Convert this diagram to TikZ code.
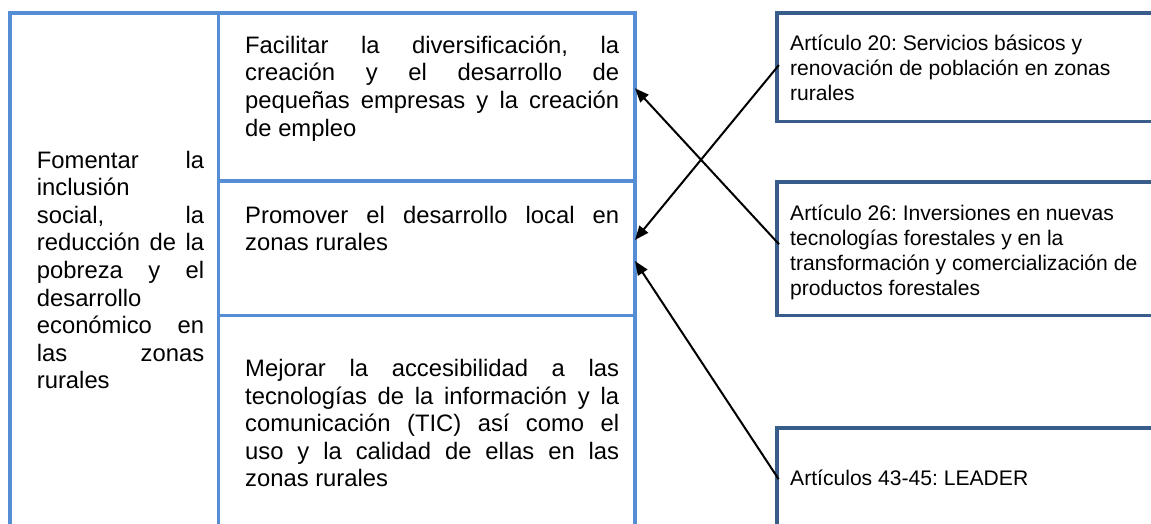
\documentclass[tikz,border=0pt]{standalone}
\usepackage{fontspec}
\setmainfont{Liberation Sans}
\usetikzlibrary{arrows.meta}
\definecolor{tbl}{HTML}{558ED5}
\definecolor{boxc}{HTML}{385D8A}
\frenchspacing
\newcommand{\jline}[1]{\makebox[\linewidth][s]{#1}\\}
\tikzset{
  cell/.style={draw=tbl, line width=3.5pt, inner sep=0pt, outer sep=0pt, anchor=north west},
  rbox/.style={draw=boxc, line width=3.5pt, inner sep=0pt, outer sep=0pt, anchor=north west, minimum width=450pt},
  txtL/.style={inner sep=0pt, anchor=base west, font=\fontsize{23.8}{27.6}\selectfont\frenchspacing},
  txtR/.style={inner sep=0pt, anchor=base west, font=\fontsize{21.1}{25}\selectfont\frenchspacing},
  arr/.style={line width=2pt, -{Triangle[length=14pt,width=11pt]}, shorten <=-3pt}
}
\begin{document}
\begin{tikzpicture}[x=1pt,y=-1pt]
\useasboundingbox (0,0) rectangle (1151,523);
\fill[white] (0,0) rectangle (1151,523);
\clip (0,0) rectangle (1151,523);
% table cells
\node[cell, minimum width=208.7pt, minimum height=560pt] (fom) at (10,13) {};
\node[cell, minimum width=416.3pt, minimum height=168pt] (fac) at (218.7,13) {};
\node[cell, minimum width=416.3pt, minimum height=134.5pt] (prom) at (218.7,181) {};
\node[cell, minimum width=416.3pt, minimum height=240pt] (mej) at (218.7,315.5) {};
% right boxes
\node[rbox, minimum height=108.7pt] (art20) at (777,13) {};
\node[rbox, minimum height=133.7pt] (art26) at (777,182) {};
\node[rbox, minimum height=97.4pt] (art43) at (777,428) {};
% texts
\node[txtL] (fomT) at (36.7,168) {\parbox[t]{167.3pt}{\frenchspacing\jline{Fomentar la}inclusión\\\jline{social, la}\jline{reducción de la}\jline{pobreza y el}desarrollo\\\jline{económico en}\jline{las zonas}rurales}};
\node[txtL] (facT) at (245,53.3) {\parbox[t]{374pt}{\frenchspacing\jline{Facilitar la diversificación, la}\jline{creación y el desarrollo de}\jline{pequeñas empresas y la creación}de empleo}};
\node[txtL] (promT) at (245,223.3) {\parbox[t]{374pt}{\frenchspacing\jline{Promover el desarrollo local en}zonas rurales}};
\node[txtL] (mejT) at (245,376.5) {\parbox[t]{374pt}{\frenchspacing\jline{Mejorar la accesibilidad a las}\jline{tecnologías de la información y la}\jline{comunicación (TIC) así como el}\jline{uso y la calidad de ellas en las}zonas rurales}};
\node[txtR] (art20T) at (790,50) {\parbox[t]{340pt}{\raggedright\frenchspacing Artículo 20: Servicios básicos y\\renovación de población en zonas\\rurales}};
\node[txtR] (art26T) at (790,220.7) {\parbox[t]{350pt}{\raggedright\frenchspacing Artículo 26: Inversiones en nuevas\\tecnologías forestales y en la\\transformación y comercialización de\\productos forestales}};
\node[txtR] (art43T) at (790,485.7) {Artículos 43-45: LEADER};
% arrows
\draw[arr] (art20.west) -- ([yshift=8.3pt]prom.east);
\draw[arr] ([yshift=6.8pt]art26.west) -- ([yshift=8.7pt]fac.east);
\draw[arr] (art43.west) -- ([yshift=-12.75pt]prom.east);
\end{tikzpicture}
\end{document}
